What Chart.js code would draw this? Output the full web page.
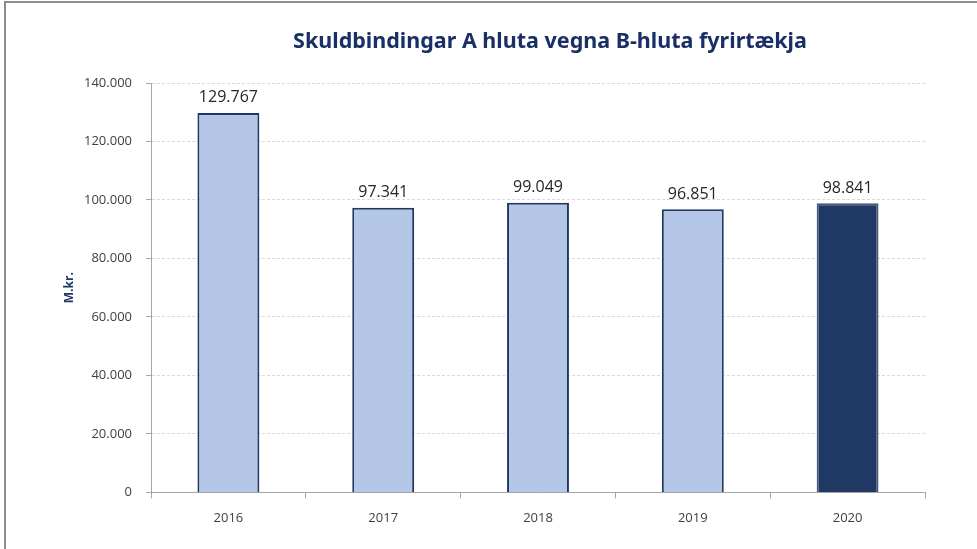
<!DOCTYPE html>
<html>
<head>
<meta charset="utf-8">
<script src="https://cdn.jsdelivr.net/npm/chart.js@4.4.0/dist/chart.umd.min.js"></script>
<style>
  html, body { margin: 0; padding: 0; background: #fff; }
  #wrap { position: relative; width: 977px; height: 549px; }
  #frame { position: absolute; left: 4px; top: 1px; right: 0; bottom: 0;
           border-left: 2px solid #8e8e8e; border-top: 2px solid #8e8e8e; }
  canvas { position: absolute; left: 0; top: 0; }
</style>
</head>
<body>
<div id="wrap">
  <div id="frame"></div>
  <canvas id="skuldChart" width="977" height="549"></canvas>
</div>
<script>
// gögn
const chartTitle = 'Skuldbindingar A hluta vegna B-hluta fyrirtækja';
const years = ['2016', '2017', '2018', '2019', '2020'];
const skuldbindingar = [129767, 97341, 99049, 96851, 98841];
const barColors = ['#b4c7e7', '#b4c7e7', '#b4c7e7', '#b4c7e7', '#203864'];
const barBorders = ['#1f3864', '#1f3864', '#1f3864', '#1f3864', '#4a5a78'];

// íslenskt talnasnið: 129.767
function formatNumber(v) {
    return Math.round(v).toString().replace(/\B(?=(\d{3})+(?!\d))/g, '.');
}

// gildi fyrir ofan súlur
const valueLabels = {
    id: 'valueLabels',
    afterDatasetsDraw(chart) {
        const ctx = chart.ctx;
        const meta = chart.getDatasetMeta(0);
        ctx.save();
        ctx.font = '16px "Open Sans", sans-serif';
        ctx.fillStyle = '#262626';
        ctx.textAlign = 'center';
        ctx.textBaseline = 'bottom';
        meta.data.forEach((bar, i) => {
            ctx.fillText(formatNumber(skuldbindingar[i]), bar.x, bar.y - 7);
        });
        ctx.restore();
    }
};

// titill, aðeins hægra megin við miðju eins og í frumritinu
const titlePlugin = {
    id: 'titlePlugin',
    afterDraw(chart) {
        const ctx = chart.ctx;
        const area = chart.chartArea;
        ctx.save();
        ctx.font = 'bold 21.5px "Noto Sans", sans-serif';
        ctx.fillStyle = '#1a2f66';
        ctx.textAlign = 'center';
        ctx.textBaseline = 'middle';
        ctx.fillText(chartTitle, (area.left + area.right) / 2 + 12, 42);
        ctx.restore();
    }
};

const ctx = document.getElementById('skuldChart').getContext('2d');
new Chart(ctx, {
    type: 'bar',
    data: {
        labels: years,
        datasets: [{
            data: skuldbindingar,
            backgroundColor: barColors,
            borderColor: barBorders,
            borderWidth: 2,
            barPercentage: 0.4,
            categoryPercentage: 1.0
        }]
    },
    options: {
        responsive: false,
        animation: false,
        layout: { padding: { left: 62, right: 52, top: 83, bottom: 11 } },
        plugins: {
            legend: { display: false },
            title: { display: false },
            tooltip: { enabled: false }
        },
        scales: {
            x: {
                grid: {
                    drawOnChartArea: false,
                    drawTicks: true,
                    tickLength: 6,
                    color: '#a6a6a6',
                    offset: true
                },
                border: { color: '#a6a6a6', width: 1 },
                ticks: {
                    color: '#404040',
                    font: { family: '"Open Sans", sans-serif', size: 13 },
                    padding: 12
                }
            },
            y: {
                min: 0,
                max: 140000,
                afterFit(axis) { axis.width = 89; },
                title: {
                    display: true,
                    text: 'M.kr.',
                    color: '#1f3864',
                    font: { family: '"Open Sans", sans-serif', size: 12, weight: 'bold' },
                    padding: { top: 0, bottom: 0 }
                },
                grid: {
                    color: '#d9d9d9',
                    tickColor: '#a6a6a6',
                    tickLength: 5,
                    drawTicks: true
                },
                border: { color: '#a6a6a6', width: 1, dash: [3, 2] },
                ticks: {
                    stepSize: 20000,
                    color: '#404040',
                    font: { family: '"Open Sans", sans-serif', size: 13 },
                    padding: 14,
                    callback: function(value) { return formatNumber(value); }
                }
            }
        }
    },
    plugins: [valueLabels, titlePlugin]
});
</script>
</body>
</html>
